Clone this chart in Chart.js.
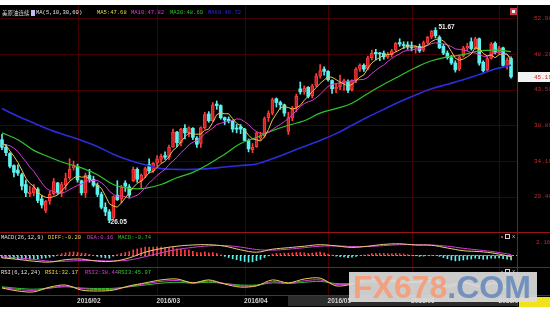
<!DOCTYPE html>
<html>
<head>
<meta charset="utf-8">
<title>美原油连续</title>
<script src="https://cdn.jsdelivr.net/npm/chart.js@4.4.1/dist/chart.umd.min.js"></script>
<style>
  html, body { margin: 0; padding: 0; background: #fff; overflow: hidden; }
  canvas { display: block; }
</style>
</head>
<body>
<canvas id="chart" width="550" height="316"></canvas>
<script>
// trading days of 2016 shown on the chart
var jan = [4,5,6,7,8,11,12,13,14,15,19,20,21,22,25,26,27,28,29];
var feb = [1,2,3,4,5,8,9,10,11,12,16,17,18,19,22,23,24,25,26,29];
var mar = [1,2,3,4,7,8,9,10,11,14,15,16,17,18,21,22,23,24,28,29,30,31];
var apr = [1,4,5,6,7,8,11,12,13,14,15,18,19,20,21,22,25,26,27,28,29];
var may = [2,3,4,5,6,9,10,11,12,13,16,17,18,19,20,23,24,25,26,27,31];
var jun = [1,2,3,6,7,8,9,10,13,14,15,16,17,20,21,22,23,24,27,28,29,30];
var jul = [1,5,6,7];

var monthLabels = ["2016/02", "2016/03", "2016/04", "2016/05", "2016/06", "2016/07"];
var priceTicks = [52.90, 48.20, 43.50, 38.80, 34.10, 29.40];
var macdMark = 2.16;

// daily candles
var opens = [36.9,35.9,35.1,33.5,32.9,32.3,31.0,29.8,29.9,30.4, 29.1,27.6,28.8,29.8,31.2,29.9,30.9,31.9,33.2,33.4,
  31.5,29.9,32.2,31.7,30.9,29.7,28.0,27.4,26.6,29.6, 29.1,31.2,30.7,31.5,33.0,31.5,32.2,33.6,32.8,33.8,
  34.3,34.8,34.6,36.0,37.9,36.5,38.4,37.8,38.4,37.1, 36.4,38.5,40.3,39.4,41.6,41.4,39.8,39.6,39.4,38.4,
  38.6,38.3,36.8,35.6,36.0,37.1,37.4,39.8,40.4,42.3, 41.8,41.5,38.0,39.8,41.2,43.6,43.2,43.8,42.7,44.1,
  45.3,46.2,45.9,44.7,43.6,43.9,44.3,44.6,43.5,44.8, 46.2,46.7,46.3,47.7,48.4,48.3,48.3,47.8,48.1,48.7,
  49.7,49.4,49.4,49.1,49.0,49.2,48.7,49.7,50.4,51.3, 50.4,49.2,48.3,47.7,47.0,46.2,47.9,49.0,49.8,48.9,
  50.2,47.1,46.1,47.6,49.6,48.4,49.0,46.7,47.6];
var highs = [37.6,36.3,35.2,33.6,33.6,32.5,31.6,30.8,31.0,30.6, 29.6,28.9,30.1,31.8,31.3,31.3,32.5,34.4,34.1,33.7,
  31.6,32.5,33.0,32.1,31.2,30.0,28.6,27.7,29.5,31.5, 30.9,31.5,31.0,33.3,33.2,32.4,33.3,34.4,33.9,34.8,
  35.0,35.3,36.2,38.3,38.0,38.4,38.9,38.6,38.5,37.3, 38.6,40.5,40.6,41.8,42.0,41.5,39.9,39.9,39.5,38.9,
  38.9,38.4,37.0,36.4,37.9,37.9,39.9,40.7,42.4,42.4, 42.0,41.6,40.5,41.3,42.9,44.5,44.0,43.9,44.2,45.6,
  46.8,46.5,46.0,44.8,44.3,45.4,44.9,44.8,44.8,46.4, 46.9,46.9,47.9,48.7,48.8,48.4,48.6,48.4,48.8,49.7,
  50.2,49.8,49.8,49.8,49.3,49.5,49.9,50.5,51.3,51.67, 50.6,49.5,48.6,48.0,47.3,48.0,49.2,49.6,50.3,50.4,
  50.3,47.3,47.8,49.7,49.8,49.2,49.1,47.7,47.8];
var lows = [35.6,34.8,33.2,32.0,32.2,30.3,29.4,29.4,29.5,28.6, 27.9,27.3,28.4,29.6,29.7,29.4,30.3,31.6,32.9,31.3,
  29.6,29.3,31.3,30.7,29.4,27.8,26.9,26.05,26.4,28.9, 28.6,30.1,29.3,31.4,31.3,30.6,31.9,32.5,32.6,33.4,
  33.9,34.3,34.3,35.9,36.0,36.1,37.0,37.3,36.9,35.9, 35.9,38.3,39.2,39.3,40.9,39.6,38.9,39.1,37.9,37.8,
  37.7,36.7,35.3,35.2,35.9,36.8,37.2,39.3,40.2,41.2, 40.9,40.0,37.6,39.4,40.6,42.9,42.9,42.4,42.4,43.9,
  45.0,45.4,44.6,43.0,43.1,43.5,43.4,43.1,43.3,44.4, 45.9,45.9,46.1,47.4,47.4,47.3,47.5,47.6,47.8,48.5,
  49.2,48.9,48.8,48.6,48.3,48.4,48.5,49.5,50.2,50.3, 48.9,48.1,47.5,46.8,45.8,46.0,47.8,48.6,48.7,48.8,
  46.7,45.8,45.9,47.5,48.2,48.2,46.5,46.2,45.0];
var closes = [35.9,35.2,33.4,32.6,32.5,30.8,29.9,30.0,30.6,28.9, 28.3,28.8,29.7,31.4,29.9,31.0,31.8,33.0,33.5,31.6,
  29.9,32.2,31.7,30.9,29.7,28.0,27.4,26.3,29.4,29.0, 30.7,30.8,29.6,33.0,31.7,32.2,33.1,32.8,33.8,34.4,
  34.7,34.6,35.9,37.9,36.5,38.3,37.8,38.5,37.2,36.3, 38.5,40.2,39.4,41.5,41.4,39.8,39.5,39.4,38.3,38.3,
  38.3,36.8,35.7,35.9,37.8,37.4,39.7,40.4,42.2,41.8, 41.5,40.4,39.8,41.1,42.6,43.2,43.7,42.6,44.0,45.3,
  46.0,45.9,44.8,43.6,43.8,44.3,44.7,43.4,44.7,46.2, 46.7,46.2,47.7,48.3,48.2,48.2,47.8,48.1,48.6,49.6,
  49.5,49.3,49.1,49.0,49.2,48.6,49.7,50.4,51.2,50.6, 49.0,48.3,47.7,47.0,46.1,47.8,49.0,49.2,48.9,50.2,
  47.0,46.0,47.6,49.5,48.4,49.0,46.7,47.4,45.19];

// moving averages (MA5 / MA10 every day, MA30 / MA60 read every 4th day)
var ma5 = [36.42,36.20,35.42,34.72,33.92,32.90,31.84,31.16,30.76,30.04,
  29.54,29.32,29.26,29.42,29.62,30.16,30.76,31.42,31.84,32.18,
  31.96,32.04,31.78,31.26,30.88,30.50,29.54,28.46,28.16,28.02,
  28.56,29.24,29.90,30.62,31.16,31.46,31.92,32.56,32.72,33.26,
  33.76,34.06,34.68,35.50,35.92,36.64,37.28,37.80,37.66,37.62,
  37.66,38.14,38.32,39.18,40.20,40.46,40.32,40.32,39.68,39.06,
  38.76,38.22,37.48,37.00,36.90,36.72,37.30,38.24,39.50,40.30,
  41.12,41.26,41.14,40.92,41.08,41.42,42.08,42.64,43.22,43.76,
  44.32,44.76,45.20,45.12,44.82,44.48,44.24,43.96,44.18,44.66,
  45.14,45.44,46.30,47.02,47.42,47.72,48.04,48.12,48.18,48.46,
  48.72,49.02,49.22,49.30,49.22,49.04,49.12,49.38,49.82,50.10,
  50.18,49.90,49.36,48.52,47.62,47.38,47.52,47.82,48.20,49.02,
  48.86,48.26,47.94,48.06,47.70,48.10,48.24,48.20,47.34];
var ma10 = [36.15,36.22,36.11,35.79,35.34,34.66,34.02,33.29,32.74,31.98,
  31.22,30.58,30.21,30.09,29.83,29.85,30.04,30.34,30.63,30.90,
  31.06,31.40,31.60,31.55,31.53,31.23,30.79,30.12,29.71,29.45,
  29.53,29.39,29.18,29.39,29.59,30.01,30.58,31.23,31.67,32.21,
  32.61,32.99,33.62,34.11,34.59,35.20,35.67,36.24,36.58,36.77,
  37.15,37.71,38.06,38.42,38.91,39.06,39.23,39.32,39.43,39.63,
  39.61,39.27,38.90,38.34,37.98,37.74,37.76,37.86,38.25,38.60,
  38.92,39.28,39.69,40.21,40.69,41.27,41.67,41.89,42.07,42.42,
  42.87,43.42,43.92,44.17,44.29,44.40,44.50,44.58,44.65,44.74,
  44.81,44.84,45.13,45.60,46.04,46.43,46.74,47.21,47.60,47.94,
  48.22,48.53,48.67,48.74,48.84,48.88,49.07,49.30,49.56,49.66,
  49.61,49.51,49.37,49.17,48.86,48.78,48.71,48.59,48.36,48.32,
  48.12,47.89,47.88,48.13,48.36,48.48,48.25,48.07,47.70];
var ma30 = [37.8,36.9,35.5,34.6,33.8,33.2,32.3,31.0,30.5,30.5,31.0,31.9,32.6,33.7,35.0,36.4,37.2,
  38.1,38.8,39.4,40.4,41.0,41.7,43.0,44.2,45.3,46.4,47.3,47.8,48.1,48.6,48.7,48.5];
var ma60 = [41.0,40.0,39.1,38.2,37.5,36.8,36.0,35.0,34.2,33.6,33.1,33.0,33.0,33.1,33.3,33.5,33.7,
  34.4,35.2,36.0,36.8,37.7,38.8,39.9,40.9,41.9,42.8,43.6,44.2,44.8,45.5,46.2,46.7];
var maNow = [47.68, 47.82, 48.69, 46.72];

// MACD(26,12,9): histogram every day, DIFF / DEA read every 4th day
var macdBar = [-0.38,-0.42,-0.46,-0.50,-0.52,-0.56,-0.60,-0.62,-0.60,-0.55,
  -0.48,-0.40,-0.30,-0.12,0.10,0.30,0.45,0.55,0.60,0.52,
  0.40,0.35,0.20,0.05,-0.15,-0.30,-0.40,-0.45,-0.10,0.15,
  0.35,0.50,0.65,0.95,1.10,1.25,1.40,1.35,1.40,1.45,
  1.40,1.30,1.25,1.35,1.10,1.05,0.95,0.90,0.70,0.50,
  0.50,0.60,0.45,0.50,0.35,0.10,-0.15,-0.35,-0.55,-0.70,
  -0.85,-1.00,-1.10,-1.05,-0.85,-0.65,-0.35,-0.05,0.25,0.35,
  0.35,0.40,0.40,0.45,0.50,0.50,0.45,0.35,0.40,0.50,
  0.55,0.45,0.25,0.05,-0.10,-0.20,-0.25,-0.35,-0.30,-0.15,
  0.00,0.05,0.15,0.30,0.35,0.35,0.35,0.30,0.30,0.35,
  0.30,0.25,0.15,0.05,-0.05,-0.15,-0.10,0.00,0.05,0.00,
  -0.15,-0.35,-0.55,-0.75,-0.90,-0.85,-0.75,-0.65,-0.60,-0.45,
  -0.55,-0.65,-0.60,-0.45,-0.45,-0.40,-0.55,-0.60,-0.74];
var diff = [-0.40,-0.65,-0.95,-1.10,-0.70,-0.60,-0.95,-0.95,-0.40,0.55,1.15,1.55,1.75,1.80,1.55,0.95,0.55,
  1.05,1.30,1.55,1.80,1.60,1.35,1.55,1.85,1.95,1.75,1.70,1.25,0.80,0.65,0.35,-0.20];
var dea = [-0.20,-0.40,-0.65,-0.95,-0.95,-0.85,-0.85,-0.92,-0.75,-0.20,0.45,1.00,1.35,1.60,1.65,1.40,1.00,
  0.90,1.05,1.30,1.55,1.60,1.50,1.50,1.65,1.80,1.80,1.75,1.55,1.20,0.90,0.60,0.16];
var macdNow = [-0.20, 0.16, -0.74];

// RSI(6,12,24), read every 4th day
var rsi1 = [40,30,27,43,50,33,30,33,47,57,67,70,57,67,53,43,47,67,57,70,73,47,53,70,63,67,60,73,43,60,43,57,32.17];
var rsi2 = [42,35,32,40,46,38,35,36,45,54,62,65,58,63,55,47,48,61,56,64,67,52,54,64,61,63,59,66,49,57,48,55,38.44];
var rsi3 = [44,39,36,40,44,40,38,39,44,50,56,59,56,59,55,50,50,57,55,59,62,55,55,60,59,60,58,62,52,56,50,54,45.97];
var rsiNow = [32.17, 38.44, 45.97];

// ---- build labels
var dates = [];
[jan, feb, mar, apr, may, jun, jul].forEach(function (days, m) {
  days.forEach(function (d) { dates.push("2016/0" + (m + 1) + "/" + (d < 10 ? "0" : "") + d); });
});
var slots = dates.concat([""]); // one empty slot at the right edge
var monthStarts = monthLabels.map(function (m) {
  for (var i = 0; i < dates.length; i++) { if (dates[i].indexOf(m) === 0) return i; }
  return -1;
});
function every4(arr) {
  return arr.map(function (v, k) { return { x: dates[k * 4], y: v }; });
}

// ---- layout: three panels share one chart area
var AREA_TOP = 5, AREA_BOTTOM = 295, AXIS_W = 33;
var PANELS = { price: [5, 232], macd: [232, 267], rsi: [267, 295] };
function band(lo, hi, p) {
  var k = (hi - lo) / (p[1] - p[0]);
  return { min: lo - (AREA_BOTTOM - p[1]) * k, max: hi + (p[0] - AREA_TOP) * k, display: false };
}

var UP = "#ff3c3c", UP_FILL = "rgba(170,20,20,0.65)", DOWN = "#5ef0ec";
var YEL = "#e6d84a", MAG = "#d83cd8", GRN = "#2ec42e", BLU = "#2c2cdc";
var MONO = '5.5px "Liberation Mono"';

function isUp(i) { return closes[i] >= opens[i]; }
function hline(ctx, y, x0, x1) { y = Math.round(y) + 0.5; ctx.beginPath(); ctx.moveTo(x0, y); ctx.lineTo(x1, y); ctx.stroke(); }
function vline(ctx, x, y0, y1) { x = Math.round(x) + 0.5; ctx.beginPath(); ctx.moveTo(x, y0); ctx.lineTo(x, y1); ctx.stroke(); }
function label(ctx, s, x, y, color, font) {
  ctx.font = font || MONO; ctx.fillStyle = color; ctx.textAlign = "left"; ctx.textBaseline = "middle";
  ctx.fillText(s, x, y);
}
function panelButtons(ctx, y) {
  ctx.fillStyle = "#e03030"; ctx.fillRect(501, y - 1, 2, 2);
  ctx.strokeStyle = "#d0d0d0"; ctx.strokeRect(505.5, y - 2.5, 4, 4);
  label(ctx, "x", 512, y, "#d0d0d0", MONO);
}

var chrome = {
  id: "chrome",
  beforeDraw: function (chart) {
    var ctx = chart.ctx, a = chart.chartArea, xs = chart.scales.x, yP = chart.scales.yP, yM = chart.scales.yM;
    ctx.save();
    ctx.fillStyle = "#000"; ctx.fillRect(0, 0, 550, 316);
    ctx.lineWidth = 1;
    ctx.strokeStyle = "#420000";
    priceTicks.forEach(function (t) { hline(ctx, yP.getPixelForValue(t), 0, a.right); });
    monthStarts.forEach(function (i) { vline(ctx, xs.getPixelForValue(i), a.top, a.bottom); });
    ctx.strokeStyle = "#8fa8b0"; ctx.setLineDash([2, 2]);
    hline(ctx, yM.getPixelForValue(0), 0, a.right);
    ctx.setLineDash([]);
    ctx.restore();
  },
  afterDraw: function (chart) {
    var ctx = chart.ctx, a = chart.chartArea, xs = chart.scales.x, yP = chart.scales.yP, yM = chart.scales.yM;
    ctx.save();
    ctx.fillStyle = "#fff"; ctx.fillRect(0, 0, 550, AREA_TOP); ctx.fillRect(0, 307, 550, 9);

    // panel frames
    ctx.strokeStyle = "#961616"; ctx.lineWidth = 1;
    hline(ctx, PANELS.macd[0], 0, 550); hline(ctx, PANELS.rsi[0], 0, 550); hline(ctx, PANELS.rsi[1], 0, 550);
    vline(ctx, a.right, AREA_TOP, 307);

    // right hand scale
    priceTicks.forEach(function (t) { label(ctx, t.toFixed(2), 534, yP.getPixelForValue(t), "#c42a2a", '6px "Liberation Mono"'); });
    var last = closes[closes.length - 1], yb = Math.round(yP.getPixelForValue(last));
    ctx.fillStyle = "#f2f2f2"; ctx.fillRect(a.right + 1, yb - 5, 550 - a.right - 1, 10);
    label(ctx, last.toFixed(2), 534, yb, "#d42020", '6px "Liberation Mono"');
    label(ctx, macdMark.toFixed(2), 536, yM.getPixelForValue(macdMark), "#c42a2a", '6px "Liberation Mono"');
    ctx.fillStyle = "#c83848"; ctx.fillRect(510, 8, 7, 7);
    ctx.fillStyle = "#f0f0f0"; ctx.fillRect(512, 10, 3, 3);

    // headers
    label(ctx, "美原油连续", 2, 13, "#d8d8d8", '5.5px "Noto Sans CJK SC"');
    ctx.fillStyle = "#c8b8f0"; ctx.fillRect(31, 10, 4, 6);
    label(ctx, "MA(5,10,30,60)", 36, 13, "#e0e0e0");
    label(ctx, "MA5:" + maNow[0].toFixed(2), 97, 13, YEL);
    label(ctx, "MA10:" + maNow[1].toFixed(2), 131, 13, MAG);
    label(ctx, "MA30:" + maNow[2].toFixed(2), 170, 13, GRN);
    label(ctx, "MA60:" + maNow[3].toFixed(2), 208, 13, BLU);

    label(ctx, "MACD(26,12,9)", 1, 237.5, "#e0e0e0");
    label(ctx, "DIFF:" + macdNow[0].toFixed(2), 48, 237.5, YEL);
    label(ctx, "DEA:" + macdNow[1].toFixed(2), 87, 237.5, MAG);
    label(ctx, "MACD:" + macdNow[2].toFixed(2), 118, 237.5, GRN);
    panelButtons(ctx, 237);

    label(ctx, "RSI(6,12,24)", 1, 273, "#e0e0e0");
    label(ctx, "RSI1:" + rsiNow[0].toFixed(2), 45, 273, YEL);
    label(ctx, "RSI2:" + rsiNow[1].toFixed(2), 85, 273, MAG);
    label(ctx, "RSI3:" + rsiNow[2].toFixed(2), 118, 273, GRN);
    panelButtons(ctx, 272);

    // extremes
    var hi = Math.max.apply(null, highs), lo = Math.min.apply(null, lows);
    var hiIdx = highs.indexOf(hi), loIdx = lows.indexOf(lo);
    label(ctx, hi.toFixed(2), xs.getPixelForValue(hiIdx) + 3, yP.getPixelForValue(hi), "#ececec", 'bold 6.5px "Liberation Sans"');
    label(ctx, "-" + lo.toFixed(2), xs.getPixelForValue(loIdx) - 1, yP.getPixelForValue(lo), "#ececec", 'bold 6.5px "Liberation Sans"');

    // date row
    ctx.fillStyle = "#2c2c2c"; ctx.fillRect(288, 296, a.right - 288, 10);
    monthStarts.forEach(function (i, k) {
      label(ctx, monthLabels[k], xs.getPixelForValue(i) - 0.5, 301, "#d4d4d4", 'bold 6.5px "Liberation Sans"');
    });
    ctx.fillStyle = "#f2e21a"; ctx.fillRect(a.right + 2, 297, 550 - a.right - 2, 10);

    // site watermark
    ctx.fillStyle = "rgba(218,218,218,0.93)"; ctx.fillRect(349, 272, 188, 30);
    ctx.font = 'bold 32px "Liberation Sans"'; ctx.textBaseline = "alphabetic"; ctx.textAlign = "left";
    ctx.fillStyle = "#f3a07e"; ctx.fillText("FX678", 353, 298);
    var w = ctx.measureText("FX678").width;
    ctx.fillStyle = "#7391bd"; ctx.fillText(".COM", 353 + w, 298);
    ctx.restore();
  }
};

function lineSet(label, data, axis, color, width, tension) {
  return { type: "line", label: label, data: data, yAxisID: axis, borderColor: color, borderWidth: width,
    pointRadius: 0, tension: tension, order: 0 };
}

new Chart(document.getElementById("chart"), {
  type: "bar",
  data: {
    labels: slots,
    datasets: [
      lineSet("MA5", ma5, "yP", "#e8c452", 1, 0),
      lineSet("MA10", ma10, "yP", MAG, 1, 0),
      lineSet("MA30", every4(ma30), "yP", GRN, 1.2, 0.4),
      lineSet("MA60", every4(ma60), "yP", BLU, 1.6, 0.4),
      {
        label: "body", data: opens.map(function (o, i) { return [o, closes[i]]; }), yAxisID: "yP",
        barThickness: 3, minBarLength: 1, grouped: false, borderSkipped: false, order: 1,
        backgroundColor: function (c) { return isUp(c.dataIndex) ? UP_FILL : DOWN; },
        borderColor: function (c) { return isUp(c.dataIndex) ? UP : DOWN; },
        borderWidth: function (c) { return isUp(c.dataIndex) ? 1 : 0; }
      },
      {
        label: "wick", data: lows.map(function (l, i) { return [l, highs[i]]; }), yAxisID: "yP",
        barThickness: 1, grouped: false, order: 2,
        backgroundColor: function (c) { return isUp(c.dataIndex) ? UP : DOWN; }
      },
      {
        label: "MACD", data: macdBar, yAxisID: "yM", barThickness: 1, grouped: false, order: 2,
        backgroundColor: function (c) { return macdBar[c.dataIndex] >= 0 ? UP : DOWN; }
      },
      lineSet("DIFF", every4(diff), "yM", "#e8cf7a", 1, 0.4),
      lineSet("DEA", every4(dea), "yM", MAG, 1, 0.4),
      lineSet("RSI1", every4(rsi1), "yR", YEL, 1, 0.3),
      lineSet("RSI2", every4(rsi2), "yR", MAG, 1, 0.3),
      lineSet("RSI3", every4(rsi3), "yR", GRN, 1, 0.3)
    ]
  },
  options: {
    responsive: false,
    animation: false,
    devicePixelRatio: 1,
    layout: { padding: { left: 0, right: AXIS_W, top: AREA_TOP, bottom: 316 - AREA_BOTTOM } },
    plugins: { legend: { display: false }, tooltip: { enabled: false } },
    scales: {
      x: { type: "category", offset: true, display: false },
      yP: band(24.75, 54.64, PANELS.price),
      yM: band(-1.92, 3.92, PANELS.macd),
      yR: band(16.67, 110, PANELS.rsi)
    }
  },
  plugins: [chrome]
});
</script>
</body>
</html>
